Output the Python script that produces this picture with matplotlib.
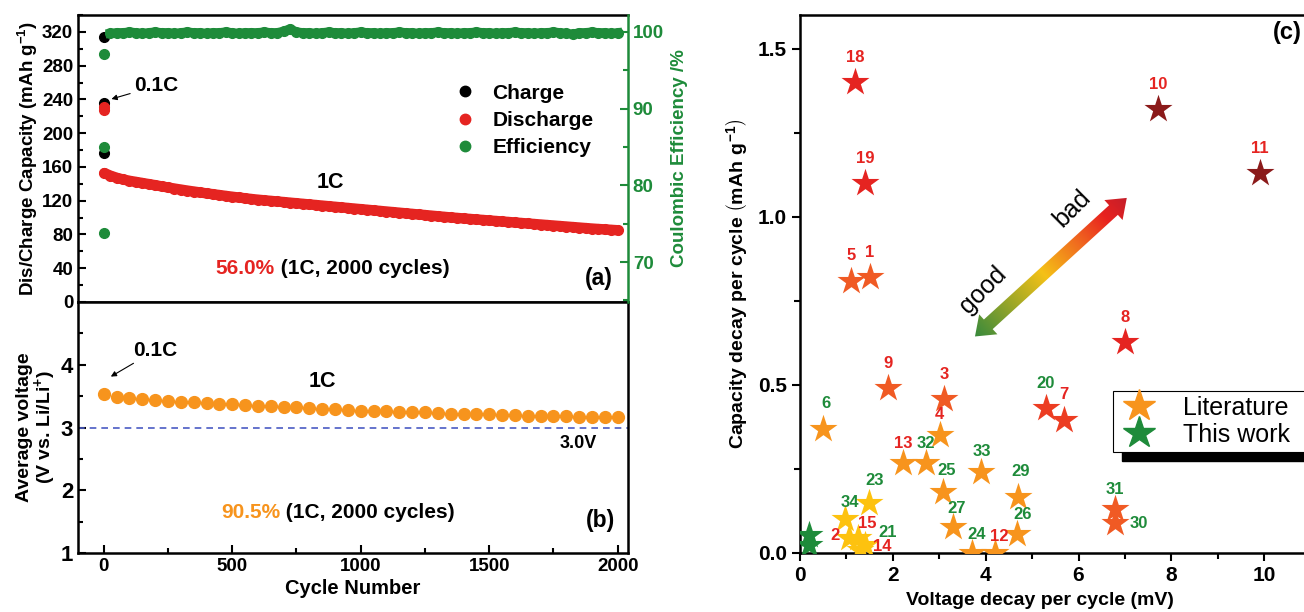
import numpy as np
import matplotlib
matplotlib.use("Agg")
import matplotlib.pyplot as plt
from matplotlib.colors import LinearSegmentedColormap
from matplotlib.lines import Line2D
from matplotlib.patches import Polygon, Rectangle
from matplotlib.ticker import MultipleLocator, FixedLocator, FormatStrFormatter

plt.rcParams['font.family'] = ['Liberation Sans', 'DejaVu Sans']
plt.rcParams['font.weight'] = 'bold'
plt.rcParams['axes.labelweight'] = 'bold'
plt.rcParams['mathtext.fontset'] = 'custom'
plt.rcParams['mathtext.rm'] = 'Liberation Sans'
plt.rcParams['mathtext.bf'] = 'Liberation Sans:bold'
plt.rcParams['mathtext.default'] = 'bf'

# ---------------- data: (a) cycling at 0.1C then 1C
charge_cycles = [1, 2, 3]
charge_first = [314, 236, 177]
dis_cycles_01c = [1, 2]
discharge_01c = [231, 228]
eff_cycles_01c = [1, 2]
eff_01c = [73.8, 97.1]

cycles_1c = [3] + list(range(25, 2001, 25))
discharge_1c = [
    152.7, 149.8, 147.2, 145.2, 143.6, 142.3, 141.0, 139.7, 138.4, 137.0,
    135.7, 134.4, 133.2, 132.0, 130.9, 129.8, 128.7, 127.7, 126.7, 125.7,
    124.7, 123.8, 122.9, 122.0, 121.2, 120.5, 119.8, 119.1, 118.4, 117.7,
    117.0, 116.3, 115.6, 114.9, 114.2, 113.5, 112.8, 112.1, 111.4, 110.7,
    110.0, 109.3, 108.6, 107.9, 107.2, 106.5, 105.8, 105.1, 104.4, 103.7,
    103.0, 102.3, 101.6, 100.9, 100.2, 99.6, 99.0, 98.4, 97.8, 97.2,
    96.6, 96.0, 95.4, 94.8, 94.2, 93.6, 93.0, 92.4, 91.8, 91.2,
    90.6, 90.0, 89.4, 88.8, 88.2, 87.6, 87.0, 86.5, 86.0, 85.5,
    85.0,
]
eff_1c = [
    85.0,
    99.8, 99.9, 99.9, 100.0, 99.9, 99.8, 99.9, 100.0, 99.9, 99.9,
    99.8, 99.9, 100.0, 99.9, 99.9, 99.8, 99.9, 99.9, 100.0, 99.9,
    99.8, 99.9, 99.9, 99.9, 100.0, 99.9, 99.9, 100.1, 100.4, 100.0,
    99.9, 99.9, 99.8, 99.9, 100.0, 99.9, 99.9, 99.8, 99.9, 100.0,
    99.9, 99.9, 99.8, 99.9, 99.9, 100.0, 99.9, 99.9, 99.8, 99.9,
    99.9, 100.0, 99.9, 99.9, 99.8, 99.9, 99.9, 100.0, 99.9, 99.9,
    99.8, 99.9, 99.9, 100.0, 99.9, 99.9, 99.8, 99.9, 99.9, 100.0,
    99.9, 99.8, 99.7, 99.9, 99.9, 100.0, 99.9, 99.9, 99.8, 99.9,
]

# ---------------- data: (b) average voltage every 50 cycles
volt_cycles = list(range(0, 2001, 50))
avg_voltage = [
    3.53, 3.49, 3.47, 3.45, 3.44, 3.42, 3.41, 3.40, 3.39, 3.38,
    3.37, 3.36, 3.35, 3.34, 3.33, 3.32, 3.31, 3.30, 3.29, 3.28,
    3.27, 3.26, 3.26, 3.25, 3.24, 3.24, 3.23, 3.22, 3.22, 3.21,
    3.21, 3.20, 3.20, 3.19, 3.19, 3.18, 3.18, 3.17, 3.17, 3.16,
    3.16,
]

# ---------------- data: (c) literature comparison
ref_ids = ['1', '2', '3', '4', '5', '6', '7', '8', '9', '10', '11', '12', '13', '14', '15',
           '18', '19', '20', '21', '23', '24', '25', '26', '27', '29', '30', '31', '32', '33', '34']
volt_decay = [1.51, 1.05, 3.10, 3.01, 1.10, 0.49, 5.69, 7.00, 1.90, 7.71, 9.91, 4.20, 2.22, 1.30, 1.25,
              1.19, 1.40, 5.30, 1.40, 1.48, 3.71, 3.09, 4.67, 3.29, 4.69, 6.79, 6.79, 2.71, 3.91, 0.98]
cap_decay = [0.82, 0.045, 0.457, 0.35, 0.81, 0.37, 0.396, 0.627, 0.49, 1.32, 1.13, 0.0, 0.267, 0.01, 0.045,
             1.40, 1.10, 0.43, 0.025, 0.15, 0.0, 0.18, 0.056, 0.078, 0.168, 0.088, 0.13, 0.267, 0.24, 0.10]
decay_level = ['ro', 'y', 'ro', 'o', 'ro', 'o', 'ro2', 'r', 'ro', 'dr', 'dr', 'o', 'o', 'y', 'y',
               'r', 'r', 'ro2', 'y', 'y', 'o', 'o', 'o', 'o', 'o', 'ro', 'ro', 'o', 'o', 'y']
ref_group = ['r', 'r', 'r', 'r', 'r', 'g', 'r', 'r', 'r', 'r', 'r', 'r', 'r', 'r', 'r',
             'r', 'r', 'g', 'g', 'g', 'g', 'g', 'g', 'g', 'g', 'g', 'g', 'g', 'g', 'g']
this_work_v = [0.2, 0.2]
this_work_c = [0.055, 0.025]

# label offsets (points) for the reference numbers
label_offset = {
    '2': (-10, 2), '14': (16, 2), '15': (7, 10), '21': (16, 9), '30': (17, 0),
    '6': (2, 18), '25': (2, 16), '29': (2, 18), '27': (3, 13), '26': (4, 14),
    '24': (3, 13), '12': (3, 12), '23': (4, 16), '34': (3, 12), '4': (0, 15),
    '13': (0, 14), '32': (0, 14), '33': (0, 15), '31': (0, 14),
}

RED = '#e52421'
GREEN = '#1e8b3a'
ORANGE = '#f7941d'
star_colors = {'dr': '#8b1a1a', 'r': '#e52421', 'ro2': '#ec3d22', 'ro': '#f05a24',
               'o': '#f7941d', 'y': '#fdc20f'}
label_colors = {'r': RED, 'g': GREEN}

W, H = 1304, 612
fig = plt.figure(figsize=(W / 100, H / 100), dpi=100)
ax_a = fig.add_axes([78 / W, 1 - 302 / H, 550 / W, 287 / H])
ax_b = fig.add_axes([78 / W, 1 - 553 / H, 550 / W, 251 / H], sharex=ax_a)
ax_c = fig.add_axes([800 / W, 1 - 553 / H, 557 / W, 538 / H])

for ax in (ax_a, ax_b, ax_c):
    for s in ax.spines.values():
        s.set_linewidth(1.8)

# ---------------- (a)
ax_a.plot(charge_cycles, charge_first, 'o', color='black', ms=7, zorder=3)
ax_a.plot(dis_cycles_01c, discharge_01c, 'o', color=RED, ms=7, zorder=3)
ax_a.plot(cycles_1c, discharge_1c, '-o', color=RED, ms=7, lw=7.5, solid_capstyle='round', zorder=3)
ax_a.set_ylim(0, 340)
ax_a.yaxis.set_major_locator(MultipleLocator(40))
ax_a.yaxis.set_minor_locator(MultipleLocator(20))
ax_a.tick_params(axis='y', which='both', direction='in', width=1.5, labelsize=13.5)
ax_a.tick_params(axis='y', which='major', length=6)
ax_a.tick_params(axis='y', which='minor', length=3.5)
ax_a.tick_params(axis='x', which='both', bottom=False, labelbottom=False)
ax_a.set_ylabel('Dis/Charge Capacity (mAh g$^{-1}$)', fontsize=13.5, labelpad=1)
ax_a.spines['right'].set_visible(False)

ax_e = ax_a.twinx()
ax_e.plot(eff_cycles_01c, eff_01c, 'o', color=GREEN, ms=7)
ax_e.plot(cycles_1c[:1], eff_1c[:1], 'o', color=GREEN, ms=7)
ax_e.plot(cycles_1c[1:], eff_1c[1:], '-o', color=GREEN, ms=7, lw=6.5)
ax_e.set_ylim(64.8, 102.2)
ax_e.yaxis.set_major_locator(MultipleLocator(10))
ax_e.yaxis.set_minor_locator(MultipleLocator(5))
ax_e.tick_params(axis='y', which='both', direction='in', colors=GREEN, width=1.5, labelsize=13.5)
ax_e.tick_params(axis='y', which='major', length=6)
ax_e.tick_params(axis='y', which='minor', length=3.5)
for k, s in ax_e.spines.items():
    s.set_visible(k == 'right')
ax_e.spines['right'].set_color(GREEN)
ax_e.spines['right'].set_linewidth(1.8)
ax_e.set_ylabel('Coulombic Efficiency /%', color=GREEN, fontsize=13.5, labelpad=5)

handles = [Line2D([], [], ls='none', marker='o', ms=7.5, color=c) for c in ('black', RED, GREEN)]
ax_e.legend(handles, ['Charge', 'Discharge', 'Efficiency'], loc='upper left',
            bbox_to_anchor=(0.67, 0.79), frameon=False, fontsize=15,
            handlelength=1.0, handletextpad=0.8, labelspacing=0.4, borderaxespad=0)

ax_a.annotate('0.1C', xy=(25, 240), xytext=(205, 256), fontsize=15, ha='center', va='center',
              arrowprops=dict(arrowstyle='-|>', color='black', lw=0.8, mutation_scale=8,
                              shrinkA=1, shrinkB=1))
ax_a.text(883, 141, '1C', fontsize=15.5, ha='center', va='center')
ax_a.text(665, 40, '56.0%', color=RED, fontsize=15, ha='right', va='center')
ax_a.text(665, 40, ' (1C, 2000 cycles)', fontsize=15, ha='left', va='center')
ax_a.text(1925, 28, '(a)', fontsize=16.5, ha='center', va='center')

# ---------------- (b)
ax_b.plot(volt_cycles, avg_voltage, 'o', color=ORANGE, ms=8.5, zorder=3)
ax_b.axhline(3.0, color='#4a5bc4', ls='--', lw=1.2, dashes=(4, 3))
ax_b.set_xlim(-100, 2040)
ax_b.set_ylim(1, 5)
ax_b.yaxis.set_major_locator(FixedLocator([1, 2, 3, 4]))
ax_b.yaxis.set_minor_locator(FixedLocator([1.5, 2.5, 3.5, 4.5]))
ax_b.xaxis.set_major_locator(MultipleLocator(500))
ax_b.xaxis.set_minor_locator(MultipleLocator(250))
ax_b.tick_params(which='both', direction='in', width=1.5, labelsize=13.5)
ax_b.tick_params(axis='y', labelsize=16)
ax_b.tick_params(which='major', length=6)
ax_b.tick_params(which='minor', length=3.5)
ax_b.set_xlabel('Cycle Number', fontsize=14.5, labelpad=3)
ax_b.set_ylabel('Average voltage\n(V vs. Li/Li$^{+}$)', fontsize=14, labelpad=2, linespacing=0.95)

ax_b.annotate('0.1C', xy=(23, 3.8), xytext=(202, 4.23), fontsize=15, ha='center', va='center',
              arrowprops=dict(arrowstyle='-|>', color='black', lw=0.8, mutation_scale=8,
                              shrinkA=1, shrinkB=1))
ax_b.text(850, 3.74, '1C', fontsize=15.5, ha='center', va='center')
ax_b.text(1848, 2.74, '3.0V', fontsize=13, ha='center', va='center')
ax_b.text(686, 1.64, '90.5%', color=ORANGE, fontsize=15, ha='right', va='center')
ax_b.text(686, 1.64, ' (1C, 2000 cycles)', fontsize=15, ha='left', va='center')
ax_b.text(1934, 1.52, '(b)', fontsize=16.5, ha='center', va='center')

# ---------------- (c)
for rid, x, y, lvl, grp in zip(ref_ids, volt_decay, cap_decay, decay_level, ref_group):
    ax_c.scatter(x, y, marker='*', s=450, color=star_colors[lvl], linewidths=0, zorder=3)
    ax_c.annotate(rid, (x, y), xytext=label_offset.get(rid, (0, 18)), textcoords='offset points',
                  ha='center', va='center', fontsize=12, color=label_colors[grp], zorder=4)
ax_c.scatter(this_work_v, this_work_c, marker='*', s=450, color=GREEN, linewidths=0, zorder=3)

ax_c.set_xlim(0, 12)
ax_c.set_ylim(0, 1.6)
ax_c.xaxis.set_major_locator(FixedLocator([0, 2, 4, 6, 8, 10]))
ax_c.xaxis.set_minor_locator(MultipleLocator(1))
ax_c.yaxis.set_major_locator(MultipleLocator(0.5))
ax_c.yaxis.set_minor_locator(MultipleLocator(0.25))
ax_c.yaxis.set_major_formatter(FormatStrFormatter('%.1f'))
ax_c.tick_params(which='both', direction='out', width=1.5, labelsize=15)
ax_c.tick_params(which='major', length=6)
ax_c.tick_params(which='minor', length=4)
ax_c.set_xlabel('Voltage decay per cycle (mV)', fontsize=14)
ax_c.xaxis.set_label_coords(0.431, -0.072)
ax_c.set_ylabel(r'Capacity decay per cycle $\left(mAh\ g^{-1}\right)$', fontsize=14, labelpad=6)
ax_c.text(10.5, 1.548, '(c)', fontsize=17, ha='center', va='center')
ax_c.text(3.95, 0.783, 'good', fontsize=18, fontweight='normal', rotation=45,
          rotation_mode='anchor', ha='center', va='center')
ax_c.text(5.86, 1.026, 'bad', fontsize=18, fontweight='normal', rotation=45,
          rotation_mode='anchor', ha='center', va='center')

lh = [Line2D([], [], ls='none', marker='*', ms=24, color=ORANGE),
      Line2D([], [], ls='none', marker='*', ms=24, color=GREEN)]
leg = ax_c.legend(lh, ['Literature', 'This work'], loc='upper left', bbox_to_anchor=(0.562, 0.301),
                  frameon=False, prop=dict(size=18, weight='normal'), borderpad=0.2,
                  labelspacing=0.12, handletextpad=0.9, handlelength=1.7, borderaxespad=0)
leg.set_zorder(6)

# gradient double arrow "good" <-> "bad"
fig.canvas.draw()
p0 = ax_c.transData.transform((3.77, 0.644))
p1 = ax_c.transData.transform((7.04, 1.056))
ov = fig.add_axes([0, 0, 1, 1], zorder=5)
ov.patch.set_alpha(0)
ov.axis('off')
d = p1 - p0
L = np.hypot(*d)
u = d / L
nrm = np.array([-u[1], u[0]])
w, hw, hl = 6.5, 13.5, 18
local = [(0, 0), (hl, hw), (hl, w), (L - hl, w), (L - hl, hw), (L, 0),
         (L - hl, -hw), (L - hl, -w), (hl, -w), (hl, -hw)]
pts = np.array([p0 + a * u + b * nrm for a, b in local])
poly = Polygon(pts, closed=True, fc='none', ec='none')
ov.add_patch(poly)
x0, y0 = pts.min(axis=0) - 2
x1, y1 = pts.max(axis=0) + 2
gx, gy = np.meshgrid(np.linspace(x0, x1, 200), np.linspace(y0, y1, 200))
t = ((gx - p0[0]) * u[0] + (gy - p0[1]) * u[1]) / L
cmap = LinearSegmentedColormap.from_list(
    'goodbad', [(0, '#3a8a3c'), (0.45, '#f5c116'), (0.68, '#f0691f'), (0.86, '#e8221f'), (1, '#c41e2a')])
im = ov.imshow(t, extent=(x0, x1, y0, y1), origin='lower', cmap=cmap, vmin=0, vmax=1,
               interpolation='bilinear', aspect='auto')
im.set_clip_path(poly)
ov.set_xlim(0, W)
ov.set_ylim(0, H)

# legend box runs past the right edge, with a black drop shadow
bb = leg.get_window_extent().transformed(ax_c.transAxes.inverted())
sx, sy = 9 / 557, 9 / 538
box_w = 1.05 - bb.x0
ax_c.add_patch(Rectangle((bb.x0 + sx, bb.y0 - sy), box_w, bb.height, transform=ax_c.transAxes,
                         color='black', zorder=5.5, clip_on=False))
ax_c.add_patch(Rectangle((bb.x0, bb.y0), box_w, bb.height, transform=ax_c.transAxes,
                         fc='white', ec='black', lw=0.8, zorder=5.6, clip_on=False))

fig.savefig('out.png', dpi=100)
